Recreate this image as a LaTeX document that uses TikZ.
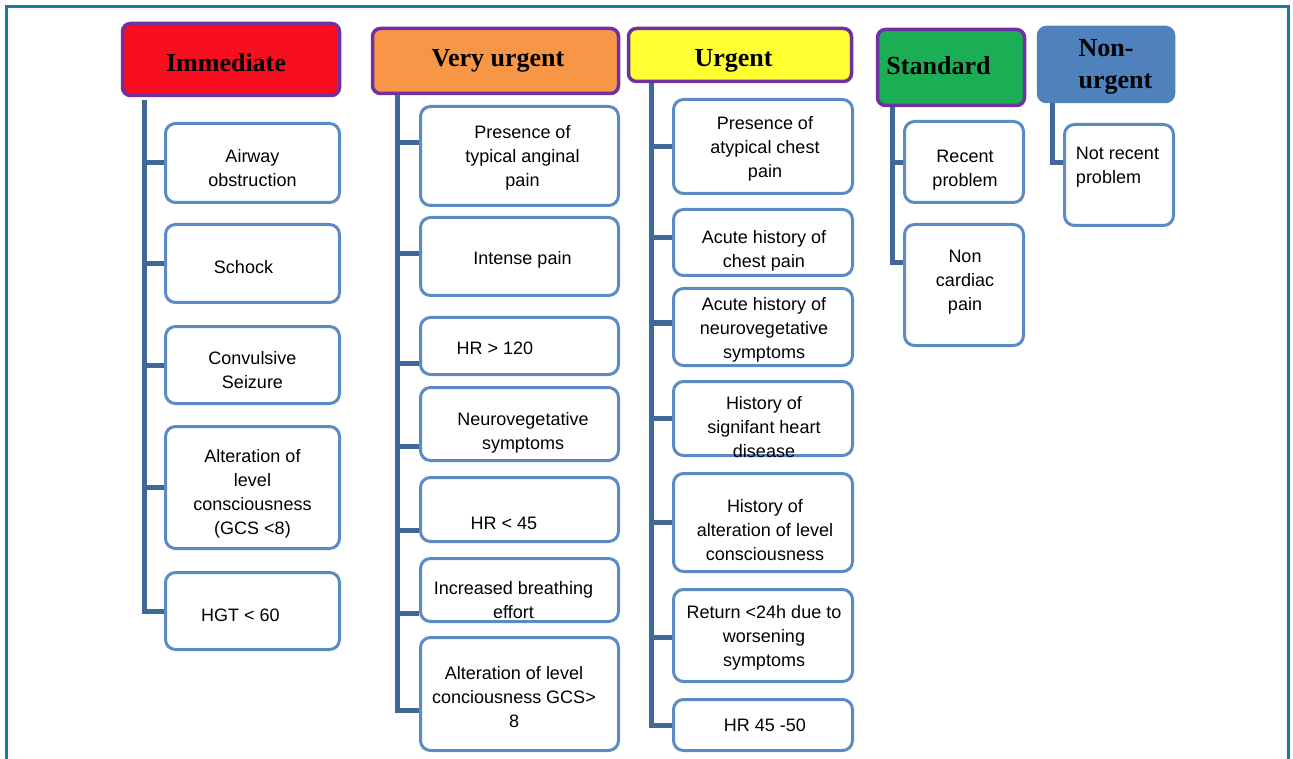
\documentclass[tikz,border=0pt]{standalone}
\usepackage{fontspec}
\setmainfont{Liberation Sans}
\newfontfamily\hdrfont{Liberation Serif}
\usetikzlibrary{calc}
\definecolor{framec}{RGB}{24,122,160}
\definecolor{hdrborder}{RGB}{112,48,160}
\definecolor{cimm}{RGB}{248,14,30}
\definecolor{cvery}{RGB}{247,150,70}
\definecolor{curg}{RGB}{255,255,50}
\definecolor{cstd}{RGB}{27,174,84}
\definecolor{cnon}{RGB}{79,129,189}
\definecolor{itemborder}{RGB}{92,138,196}
\definecolor{treec}{RGB}{63,103,151}
\newcommand\tb[4][c]{\makebox[0pt]{\hspace*{#2pt}\raisebox{\dimexpr-6.5pt-(#3pt)\relax}[0pt][0pt]{\begin{tabular}{@{}#1@{}}#4\end{tabular}}\hspace*{-#2pt}}}
\begin{document}
\begin{tikzpicture}[x=1pt,y=-1pt,
  font=\fontsize{18}{24}\selectfont,
  hdr/.style={draw=hdrborder, line width=3.5pt, rounded corners=8pt, inner sep=0pt,
    font=\hdrfont\bfseries\fontsize{26}{32}\selectfont},
  item/.style={draw=itemborder, line width=3pt, rounded corners=10pt, inner sep=0pt, fill=white},
  tree/.style={draw=treec, line width=5pt},
  frameline/.style={draw=framec, line width=3pt}]
\useasboundingbox (0,0) rectangle (1293,759);
\draw[frameline] (6,759) -- (6,7) -- (1288,7) -- (1288,759);

% headers
\node[hdr, fill=cimm, minimum width=217pt, minimum height=72pt] (ih) at (231,59.5) {\tb{-5}{5.7}{Immediate}};
\node[hdr, fill=cvery, minimum width=246pt, minimum height=65pt] (vh) at (495.5,61) {\tb{2.5}{-0.8}{Very urgent}};
\node[hdr, fill=curg, minimum width=223pt, minimum height=53pt] (uh) at (740,55) {\tb{-6.5}{5.2}{Urgent}};
\node[hdr, fill=cstd, minimum width=147pt, minimum height=76pt] (sh) at (951,67.5) {\tb{-12.5}{0.7}{Standard}};
\node[hdr, draw=cnon, fill=cnon, minimum width=135pt, minimum height=74pt] (nh) at (1106,64.5) {\tb[l]{9.5}{1.7}{Non-\\urgent}};

% Immediate items
\begin{scope}[every node/.style={item, minimum width=174pt}]
\node[minimum height=79pt] (i1) at (252.5,163) {\tb{0}{5}{Airway\\obstruction}};
\node[minimum height=78pt] (i2) at (252.5,263.5) {\tb{-9}{3.5}{Schock}};
\node[minimum height=77pt] (i3) at (252.5,365) {\tb{0}{4.5}{Convulsive\\Seizure}};
\node[minimum height=122pt] (i4) at (252.5,487.5) {\tb{0}{4}{Alteration of\\level\\consciousness\\(GCS <8)}};
\node[minimum height=77pt] (i5) at (252.5,611) {\tb{-12}{4}{HGT < 60}};
\end{scope}

% Very urgent items
\begin{scope}[every node/.style={item, minimum width=198pt}]
\node[minimum height=99pt] (v1) at (519.5,156) {\tb{3}{0}{Presence of\\typical anginal\\pain}};
\node[minimum height=78pt] (v2) at (519.5,256.5) {\tb{3}{1.5}{Intense pain}};
\node[minimum height=57pt] (v3) at (519.5,346) {\tb{-24.5}{2}{HR > 120}};
\node[minimum height=73pt] (v4) at (519.5,424) {\tb{3.5}{6.5}{Neurovegetative\\symptoms}};
\node[minimum height=64pt] (v5) at (519.5,509.5) {\tb{-15.5}{13.5}{HR < 45}};
\node[minimum height=63pt] (v6) at (519.5,590) {\tb{-6}{10}{Increased breathing\\effort}};
\node[minimum height=113pt] (v7) at (519.5,694) {\tb{-5.5}{3}{Alteration of level\\conciousness GCS>\\8}};
\end{scope}

% Urgent items
\begin{scope}[every node/.style={item, minimum width=179pt}]
\node[minimum height=94pt] (u1) at (763,146.5) {\tb{2}{0.5}{Presence of\\atypical chest\\pain}};
\node[minimum height=66pt] (u2) at (763,242.5) {\tb{1}{6}{Acute history of\\chest pain}};
\node[minimum height=77pt] (u3) at (763,327) {\tb{1}{1}{Acute history of\\neurovegetative\\symptoms}};
\node[minimum height=74pt] (u4) at (763,418.5) {\tb{1}{8.5}{History of\\signifant heart\\disease}};
\node[minimum height=98pt] (u5) at (763,522.5) {\tb{2}{7.5}{History of\\alteration of level\\consciousness}};
\node[minimum height=92pt] (u6) at (763,635.5) {\tb{1}{0.5}{Return <24h due to\\worsening\\symptoms}};
\node[minimum height=51pt] (u7) at (763,725) {\tb{2}{0}{HR 45 -50}};
\end{scope}

% Standard items
\begin{scope}[every node/.style={item, minimum width=119pt}]
\node[minimum height=81pt] (s1) at (964,162) {\tb{1}{5.5}{Recent\\problem}};
\node[minimum height=121pt] (s2) at (964,285) {\tb{1}{-5}{Non\\cardiac\\pain}};
\end{scope}

% Non-urgent item
\node[item, minimum width=109pt, minimum height=101pt] (n1) at (1119,175) {\tb[l]{-1.5}{-10.5}{Not recent\\problem}};

% trunk tops
\coordinate (it) at (144,100);
\coordinate (vt) at (397,95);
\coordinate (ut) at (651,83);
\coordinate (st) at (892,107);
\coordinate (nt) at (1052,103);

% branch points
\coordinate (v1b) at ([yshift=13pt]v1.west);
\coordinate (v2b) at ([yshift=2.5pt]v2.west);
\coordinate (v3b) at ([yshift=-17pt]v3.west);
\coordinate (v4b) at ([yshift=-22pt]v4.west);
\coordinate (v5b) at ([yshift=-20.5pt]v5.west);
\coordinate (v6b) at ([yshift=-23pt]v6.west);
\coordinate (v7b) at ([yshift=-16pt]v7.west);
\coordinate (u2b) at ([yshift=4.5pt]u2.west);
\coordinate (u3b) at ([yshift=4pt]u3.west);
\coordinate (u6b) at ([yshift=-1.5pt]u6.west);
\coordinate (s1b) at ([yshift=-1pt]s1.west);
\coordinate (s2b) at ([yshift=22pt]s2.west);
\coordinate (n1b) at ([yshift=12pt]n1.west);

% Immediate tree
\draw[tree] (it) |- (i5.west);
\foreach \b in {i1,i2,i3,i4} \draw[tree] (it |- \b.west) -- (\b.west);
% Very urgent tree
\draw[tree] (vt) |- (v7b);
\foreach \b in {v1b,v2b,v3b,v4b,v5b,v6b} \draw[tree] (vt |- \b) -- (\b);
% Urgent tree
\draw[tree] (ut) |- (u7.west);
\draw[tree] (ut |- u1.west) -- (u1.west);
\draw[tree] (ut |- u2b) -- (u2b);
\draw[tree] (ut |- u3b) -- (u3b);
\draw[tree] (ut |- u4.west) -- (u4.west);
\draw[tree] (ut |- u5.west) -- (u5.west);
\draw[tree] (ut |- u6b) -- (u6b);
% Standard tree
\draw[tree] (st) |- (s2b);
\draw[tree] (st |- s1b) -- (s1b);
% Non-urgent tree
\draw[tree] (nt) |- (n1b);
\end{tikzpicture}
\end{document}
